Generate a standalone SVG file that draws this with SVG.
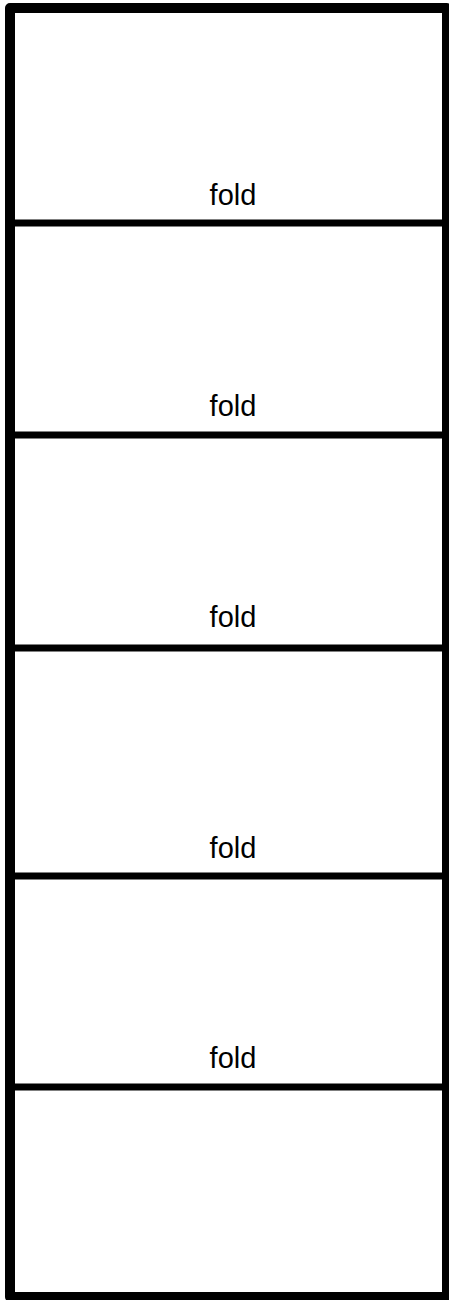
<svg xmlns="http://www.w3.org/2000/svg" width="449" height="1300" viewBox="0 0 449 1300">
<style>
.frame{fill:#fff;stroke:#000;stroke-width:10;stroke-linejoin:round}
.fold{stroke:#000;stroke-width:7;fill:none}
.lbl{font-family:"Liberation Sans",Arial,sans-serif;font-size:29px;fill:#000;text-anchor:middle}
</style>
<rect width="449" height="1300" fill="#fff"/>
<g id="frame"><rect class="frame" x="10" y="8" width="437" height="1289"/></g>
<g id="connectors">
<line class="fold" x1="10" y1="223" x2="447" y2="223"/>
<line class="fold" x1="10" y1="435" x2="447" y2="435"/>
<line class="fold" x1="10" y1="648" x2="447" y2="648"/>
<line class="fold" x1="10" y1="876" x2="447" y2="876"/>
<line class="fold" x1="10" y1="1087" x2="447" y2="1087"/>
</g>
<g id="label1"><text class="lbl" x="233" y="205">fold</text></g>
<g id="label2"><text class="lbl" x="233" y="416">fold</text></g>
<g id="label3"><text class="lbl" x="233" y="627">fold</text></g>
<g id="label4"><text class="lbl" x="233" y="858">fold</text></g>
<g id="label5"><text class="lbl" x="233" y="1068">fold</text></g>
</svg>
